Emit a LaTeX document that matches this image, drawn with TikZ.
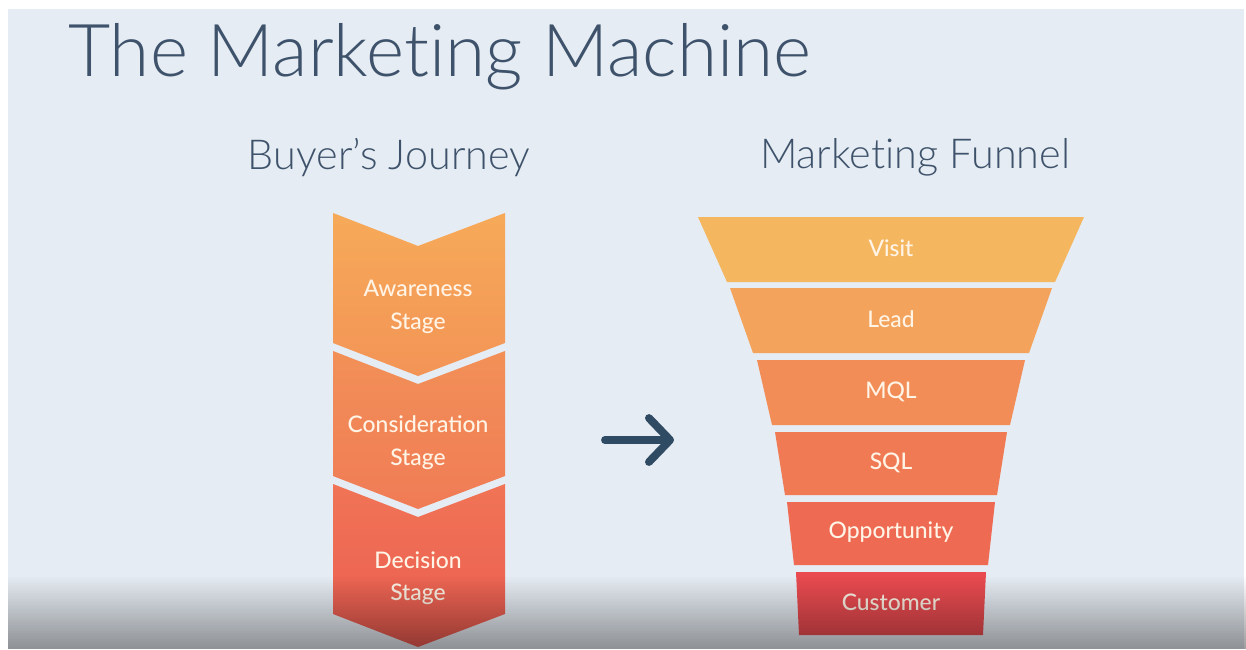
\documentclass[tikz,border=0pt]{standalone}
\usepackage{fontspec}
\setmainfont{Lato}
\newfontfamily\lightfont{Lato Light}[Ligatures=NoCommon]
\newfontfamily\labelfont{Lato Medium}
\usetikzlibrary{arrows.meta}

\definecolor{paper}{HTML}{E6ECF3}
\definecolor{slate}{HTML}{3E536B}
\definecolor{arrowblue}{HTML}{2F4A63}
\definecolor{labeltext}{HTML}{FFF4E6}
%% chevron shades, top to bottom
\definecolor{chevA}{HTML}{F6AA58}
\definecolor{chevB}{HTML}{F39457}
\definecolor{chevC}{HTML}{F29057}
\definecolor{chevD}{HTML}{F07B56}
\definecolor{chevE}{HTML}{F07455}
\definecolor{chevF}{HTML}{EC5C52}
%% funnel layers
\definecolor{visit}{HTML}{F5B660}
\definecolor{lead}{HTML}{F3A35B}
\definecolor{mql}{HTML}{F28D58}
\definecolor{sql}{HTML}{F07A54}
\definecolor{opp}{HTML}{EE6A52}
\definecolor{cust}{HTML}{E94B50}

\begin{document}
\begin{tikzpicture}[x=0.02cm,y=-0.02cm,
	stage/.style={text=labeltext,align=center,font=\labelfont\fontsize{13}{18.5}\selectfont},
	layer/.style={text=labeltext,font=\labelfont\fontsize{13}{16}\selectfont},
	heading/.style={text=slate,anchor=base,font=\lightfont\fontsize{23.5}{28}\selectfont},
	flow/.style={-{Straight Barb[round,length=12pt,width=25pt]},line width=4.5pt,line cap=round,arrowblue}]
	\useasboundingbox (0,0) rectangle (1246,649);
	\fill[white] (0,0) rectangle (1246,649);
	\fill[paper] (8,9) rectangle (1244,649);

	%% titles
	\node[text=slate,anchor=base west,inner sep=0,font=\lightfont\fontsize{41.5}{46}\selectfont] (title) at (68,76) {The Marketing Machine};
	\node[heading] (buyer) at (389,169) {Buyer’s Journey};
	\node[heading] (funnelhead) at (915,168) {Marketing Funnel};

	%% buyer's journey chevrons
	\foreach \t/\b/\ca/\cb/\txt [count=\i] in {213/343/chevA/chevB/{Awareness\\Stage},
		351/476/chevC/chevD/{Consideration\\Stage},484/614/chevE/chevF/{Decision\\Stage}}
	{
		\path[top color=\ca,bottom color=\cb] (333,\t) -- (418,\t+33) -- (505,\t)
			-- (505,\b) -- (418,\b+33) -- (333,\b) -- cycle;
		\node[stage] (stage\i) at (418,{(\t+\b)/2+29}) {\txt};
	}

	%% funnel, one trapezoid per layer
	\foreach \yt/\yb/\wt/\wb/\col/\txt [count=\i] in {217/282/193/164/visit/Visit,
		288/353/161/138/lead/Lead,360/425/134/119/mql/MQL,432/495/116/106/sql/SQL,
		502/565/104/97/opp/Opportunity,572/635/95/92/cust/Customer}
	{
		\fill[\col] (891-\wt,\yt) -- (891+\wt,\yt) -- (891+\wb,\yb) -- (891-\wb,\yb) -- cycle;
		\node[layer] (f\i) at (891,{(\yt+\yb)/2-1}) {\txt};
	}

	%% arrow between the two
	\coordinate (arrowtail) at (605,440);
	\coordinate (arrowtip) at (674,440);
	\draw[flow] (arrowtail) -- (arrowtip);

	%% darker band along the bottom, built up in thin strips
	\foreach \k in {0,...,36}
		\fill[black,opacity=0.0105*\k] (8,575+2*\k) rectangle (1246,577+2*\k);
\end{tikzpicture}
\end{document}
